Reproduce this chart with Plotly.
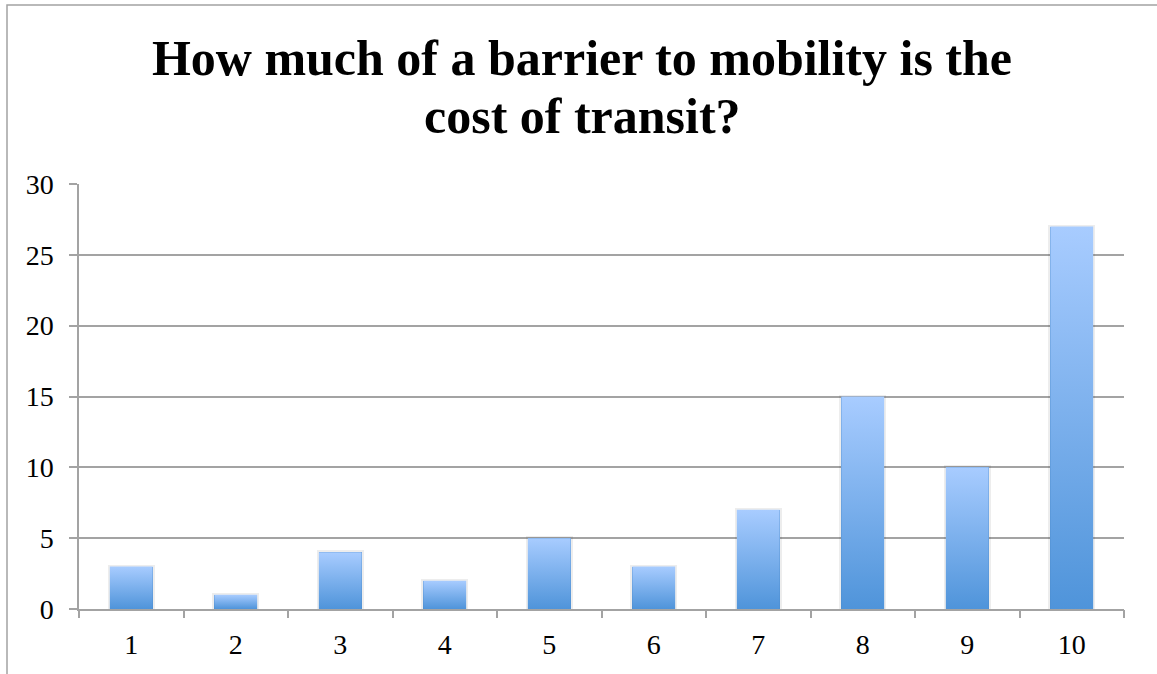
import plotly.graph_objects as go

# Survey responses: rating of cost as a barrier (1 = none, 10 = severe)
ratings = [1, 2, 3, 4, 5, 6, 7, 8, 9, 10]
rating_labels = [str(r) for r in ratings]
responses = [3, 1, 4, 2, 5, 3, 7, 15, 10, 27]

y_ticks = [0, 5, 10, 15, 20, 25, 30]

title_lines = ["How much of a barrier to mobility is the", "cost of transit?"]

BAR_WIDTH = 0.41
LIGHT = "#A8CCFF"
DARK = "#4F94DA"
GRID = "#A3A3A3"
FONT = "Liberation Serif"
TITLE_SIZE = 50
TICK_SIZE = 28

fig = go.Figure()

# Base bars (dark fill, soft halo) carrying the data
fig.add_trace(go.Bar(
    x=ratings, y=responses, width=BAR_WIDTH,
    marker=dict(color=DARK, line=dict(color="rgba(0,0,0,0.07)", width=4)),
    hovertemplate="%{x}: %{y}<extra></extra>",
    showlegend=False,
))

# Vertical gradient overlay for each bar
for r, v in zip(ratings, responses):
    x0, x1 = r - BAR_WIDTH / 2, r + BAR_WIDTH / 2
    fig.add_trace(go.Scatter(
        x=[x0, x1, x1, x0, x0], y=[0, 0, v, v, 0],
        mode="lines", line=dict(width=0), fill="toself",
        fillgradient=dict(type="vertical", colorscale=[[0, DARK], [1, LIGHT]],
                          start=0, stop=v),
        hoverinfo="skip", showlegend=False,
    ))

# Invisible trace on the overlay axis so its ticks render
fig.add_trace(go.Scatter(x=[ratings[0]], y=[0], xaxis="x2", mode="markers",
                         marker=dict(opacity=0), hoverinfo="skip", showlegend=False))

x_range = [ratings[0] - 0.5, ratings[-1] + 0.5]
boundaries = [r - 0.5 for r in ratings] + [ratings[-1] + 0.5]

fig.update_layout(
    width=1157, height=674,
    margin=dict(l=79, r=33, t=184, b=65),
    paper_bgcolor="white", plot_bgcolor="white",
    title=dict(
        text=title_lines[0],
        font=dict(family=FONT, size=TITLE_SIZE, color="black", weight="bold"),
        x=0.503, xanchor="center", xref="container",
        y=1 - 57 / 674, yanchor="middle", yref="container",
    ),
    annotations=[dict(
        text=title_lines[1], showarrow=False,
        font=dict(family=FONT, size=TITLE_SIZE, color="black", weight="bold"),
        xref="paper", yref="paper", x=(582 - 79) / 1045, xanchor="center",
        y=1 + (184 - 116) / 425, yanchor="middle",
    )],
    xaxis=dict(
        range=x_range, tickmode="array", tickvals=ratings, ticktext=rating_labels,
        ticks="", showgrid=False, zeroline=False,
        showline=True, linecolor=GRID, linewidth=1.5,
        tickfont=dict(family=FONT, size=TICK_SIZE, color="black"),
        ticklabelstandoff=10,
        fixedrange=True,
    ),
    xaxis2=dict(
        range=x_range, overlaying="x", anchor="y", side="bottom",
        tickmode="array", tickvals=boundaries, ticks="outside", ticklen=8,
        tickwidth=1.5, tickcolor=GRID, showticklabels=False,
        showgrid=False, zeroline=False, showline=False, fixedrange=True,
    ),
    yaxis=dict(
        range=[0, 30], tickmode="array", tickvals=y_ticks,
        ticks="outside", ticklen=8, tickwidth=1.5, tickcolor=GRID,
        showgrid=True, gridcolor=GRID, gridwidth=1.5,
        zeroline=False, showline=True, linecolor=GRID, linewidth=1.5,
        tickfont=dict(family=FONT, size=TICK_SIZE, color="black"),
        ticklabelstandoff=10,
        fixedrange=True,
    ),
    bargap=0,
    shapes=[dict(
        type="rect", xref="paper", yref="paper",
        x0=(7 - 79) / 1045, x1=1.2, y0=-0.3, y1=1 + (184 - 5) / 425,
        line=dict(color=GRID, width=1.5), fillcolor="rgba(0,0,0,0)", layer="below",
    )],
)

fig.write_html("out.html")
